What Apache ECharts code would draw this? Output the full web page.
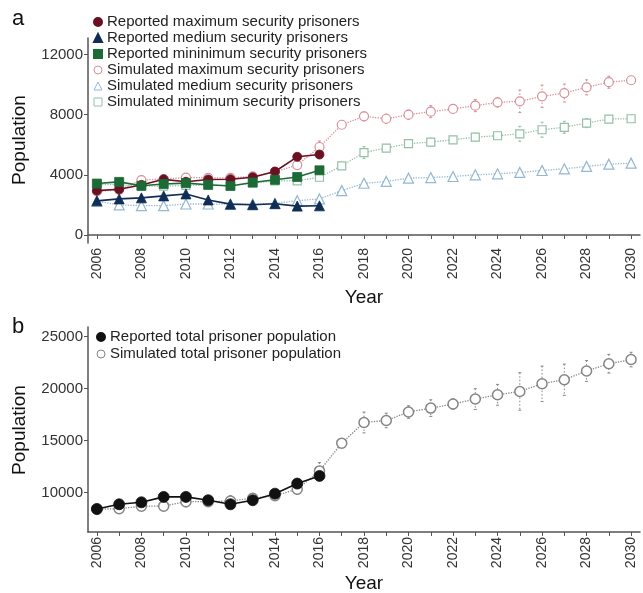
<!DOCTYPE html>
<html>
<head>
<meta charset="utf-8">
<script src="https://cdn.jsdelivr.net/npm/echarts@6/dist/echarts.min.js"></script>
<style>
  html, body { margin: 0; padding: 0; background: #fff; }
  #chart { width: 643px; height: 593px; }
</style>
</head>
<body>
<div id="chart"></div>
<script>
// Years covered by the projection (reported data stops at 2016)
const years = [2006, 2007, 2008, 2009, 2010, 2011, 2012, 2013, 2014, 2015, 2016, 2017, 2018,
               2019, 2020, 2021, 2022, 2023, 2024, 2025, 2026, 2027, 2028, 2029, 2030];
const reportedYears = years.slice(0, 11);
const yearLabels = [2006, 2008, 2010, 2012, 2014, 2016, 2018, 2020, 2022, 2024, 2026, 2028, 2030];
const ticksA = [0, 4000, 8000, 12000];
const ticksB = [10000, 15000, 20000, 25000];

// Panel a: prisoners by security level
const reportedMax = [2950, 3040, 3330, 3700, 3540, 3690, 3710, 3840, 4220, 5200, 5350];
const reportedMed = [2270, 2400, 2470, 2600, 2730, 2330, 2050, 2010, 2080, 1920, 1940];
const reportedMin = [3420, 3530, 3270, 3390, 3450, 3340, 3260, 3490, 3670, 3860, 4300];

const simulatedMax = [2900, 3000, 3650, 3720, 3820, 3800, 3800, 3900, 4200, 4650, 5850, 7330, 7890,
                      7730, 8000, 8200, 8380, 8600, 8820, 8890, 9220, 9440, 9820, 10160, 10290];
const simulatedMed = [2250, 2000, 1950, 1950, 2060, 2060, 2050, 2050, 2100, 2280, 2400, 2950, 3440,
                      3560, 3780, 3820, 3890, 4000, 4070, 4160, 4290, 4400, 4560, 4710, 4780];
const simulatedMin = [3350, 3350, 3250, 3250, 3300, 3300, 3300, 3450, 3600, 3600, 3840, 4600, 5480,
                      5780, 6070, 6180, 6330, 6510, 6600, 6730, 7000, 7160, 7440, 7710, 7730];

// Half-widths of the simulation spread
const simulatedMaxErr = [150, 150, 150, 150, 200, 150, 150, 200, 200, 300, 400, 200, 300,
                         300, 300, 400, 200, 400, 300, 750, 750, 600, 500, 400, 200];
const simulatedMedErr = [100, 100, 100, 100, 100, 100, 100, 100, 100, 150, 150, 150, 200,
                         150, 150, 150, 150, 150, 150, 200, 200, 200, 200, 150, 150];
const simulatedMinErr = [150, 150, 150, 150, 150, 150, 150, 150, 150, 200, 200, 200, 400,
                         200, 200, 250, 200, 250, 200, 500, 500, 400, 300, 200, 150];

// Panel b: total prisoner population
const reportedTotal = [8430, 8880, 9070, 9590, 9590, 9270, 8880, 9270, 9900, 10870, 11610];
const simulatedTotal = [8400, 8460, 8690, 8700, 9130, 9130, 9200, 9460, 9710, 10330, 12090, 14760, 16750,
                        16940, 17750, 18130, 18520, 19000, 19410, 19730, 20470, 20860, 21700, 22400, 22800];
const simulatedTotalErr = [300, 300, 400, 400, 500, 300, 500, 400, 400, 500, 800, 300, 1000,
                           700, 600, 800, 500, 1000, 1000, 1800, 1700, 1500, 1000, 900, 700];

const FONT = 'Liberation Sans, Arial, sans-serif';
const AXIS = '#555';

const pair = (xs, ys) => ys.map((v, i) => [xs[i], v]);
const triple = (xs, ys, es) => ys.map((v, i) => [xs[i], v, es[i]]);

function errorBars(name, idx, data, color) {
  return {
    type: 'custom', name: name, xAxisIndex: idx, yAxisIndex: idx, z: 1,
    data: data, silent: true,
    renderItem: function (params, api) {
      const x = api.value(0), y = api.value(1), e = api.value(2);
      const top = api.coord([x, y + e]);
      const bot = api.coord([x, y - e]);
      const st = { stroke: color, lineWidth: 1, lineDash: [1.5, 2] };
      const cap = { stroke: color, lineWidth: 1 };
      return {
        type: 'group',
        children: [
          { type: 'line', shape: { x1: top[0], y1: top[1], x2: bot[0], y2: bot[1] }, style: st },
          { type: 'line', shape: { x1: top[0] - 1.5, y1: top[1], x2: top[0] + 1.5, y2: top[1] }, style: cap },
          { type: 'line', shape: { x1: bot[0] - 1.5, y1: bot[1], x2: bot[0] + 1.5, y2: bot[1] }, style: cap }
        ]
      };
    }
  };
}

function simSeries(name, idx, data, color, symbol, size, bw) {
  return {
    type: 'line', name: name, xAxisIndex: idx, yAxisIndex: idx, z: 2,
    data: data, symbol: symbol, symbolSize: size,
    itemStyle: { color: '#fff', borderColor: color, borderWidth: bw || 1.2 },
    lineStyle: { color: color, width: 1.3, type: 'dotted' },
    emphasis: { disabled: true }
  };
}

function repSeries(name, idx, data, color, symbol, size) {
  return {
    type: 'line', name: name, xAxisIndex: idx, yAxisIndex: idx, z: 3,
    data: data, symbol: symbol, symbolSize: size,
    itemStyle: { color: color, borderColor: color, borderWidth: 0.8 },
    lineStyle: { color: color, width: 1.6 },
    emphasis: { disabled: true }
  };
}

function xAxis(idx) {
  return {
    type: 'value', gridIndex: idx, min: 2005.6, max: 2030.4,
    axisLine: { show: true, lineStyle: { color: AXIS, width: 1.5 } },
    axisTick: { show: true, length: 4, customValues: years, lineStyle: { color: AXIS, width: 1 } },
    axisLabel: { customValues: yearLabels, rotate: 90, margin: 5, color: '#333',
                 fontFamily: FONT, fontSize: 14, formatter: v => String(v) },
    splitLine: { show: false }
  };
}

function yAxis(idx, min, max, ticks) {
  return {
    type: 'value', gridIndex: idx, min: min, max: max,
    axisLine: { show: true, lineStyle: { color: AXIS, width: 1.5 } },
    axisTick: { show: true, length: 4, customValues: ticks, lineStyle: { color: AXIS, width: 1 } },
    axisLabel: { customValues: ticks, margin: 5, color: '#333', fontFamily: FONT, fontSize: 15,
                 formatter: v => String(v) },
    splitLine: { show: false }
  };
}

const C = {
  repMax: '#6b1020', repMed: '#0f2d55', repMin: '#1c6a36',
  simMax: '#d88f9a', simMed: '#94b8d2', simMin: '#94c0a8',
  repTot: '#111111', simTot: '#858585'
};

const names = {
  repMax: 'Reported maximum security prisoners',
  repMed: 'Reported medium security prisoners',
  repMin: 'Reported mininimum security prisoners',
  simMax: 'Simulated maximum security prisoners',
  simMed: 'Simulated medium security prisoners',
  simMin: 'Simulated minimum security prisoners',
  repTot: 'Reported total prisoner population',
  simTot: 'Simulated total prisoner population'
};

const legendText = { fontFamily: FONT, fontSize: 15, color: '#222', lineHeight: 16 };
const hollow = c => ({ color: '#fff', borderColor: c, borderWidth: 1 });

const option = {
  animation: false,
  backgroundColor: '#fff',
  grid: [
    { left: 88, top: 38, width: 552, height: 205 },
    { left: 88, top: 327, width: 552, height: 205 }
  ],
  xAxis: [xAxis(0), xAxis(1)],
  yAxis: [yAxis(0, -533, 13100, ticksA), yAxis(1, 6214, 25930, ticksB)],
  legend: [
    {
      orient: 'vertical', left: 88, top: 9, itemGap: 0, itemWidth: 8, itemHeight: 8,
      textStyle: legendText, selectedMode: false,
      data: [
        { name: names.repMax, icon: 'circle', itemStyle: { color: C.repMax } },
        { name: names.repMed, icon: 'triangle', itemStyle: { color: C.repMed } },
        { name: names.repMin, icon: 'rect', itemStyle: { color: C.repMin } },
        { name: names.simMax, icon: 'circle', itemStyle: hollow(C.simMax) },
        { name: names.simMed, icon: 'triangle', itemStyle: hollow(C.simMed) },
        { name: names.simMin, icon: 'rect', itemStyle: hollow(C.simMin) }
      ]
    },
    {
      orient: 'vertical', left: 91, top: 324, itemGap: 1, itemWidth: 8, itemHeight: 8,
      textStyle: legendText, selectedMode: false,
      data: [
        { name: names.repTot, icon: 'circle', itemStyle: { color: C.repTot } },
        { name: names.simTot, icon: 'circle', itemStyle: hollow(C.simTot) }
      ]
    }
  ],
  graphic: [
    { type: 'text', left: 12, top: 8, style: { text: 'a', font: '22px ' + FONT, fill: '#111' } },
    { type: 'text', left: 12, top: 316, style: { text: 'b', font: '22px ' + FONT, fill: '#111' } },
    { type: 'text', x: 364, y: 298, style: { text: 'Year', font: '19px ' + FONT, fill: '#111',
      align: 'center', verticalAlign: 'middle' } },
    { type: 'text', x: 364, y: 584, style: { text: 'Year', font: '19px ' + FONT, fill: '#111',
      align: 'center', verticalAlign: 'middle' } },
    { type: 'text', x: 20, y: 140, rotation: Math.PI / 2, style: { text: 'Population', font: '19px ' + FONT,
      fill: '#111', align: 'center', verticalAlign: 'middle' } },
    { type: 'text', x: 20, y: 430, rotation: Math.PI / 2, style: { text: 'Population', font: '19px ' + FONT,
      fill: '#111', align: 'center', verticalAlign: 'middle' } }
  ],
  series: [
    errorBars('errMax', 0, triple(years, simulatedMax, simulatedMaxErr), C.simMax),
    errorBars('errMed', 0, triple(years, simulatedMed, simulatedMedErr), C.simMed),
    errorBars('errMin', 0, triple(years, simulatedMin, simulatedMinErr), C.simMin),
    simSeries(names.simMax, 0, pair(years, simulatedMax), C.simMax, 'circle', 9),
    simSeries(names.simMed, 0, pair(years, simulatedMed), C.simMed, 'triangle', 10),
    simSeries(names.simMin, 0, pair(years, simulatedMin), C.simMin, 'rect', 8),
    repSeries(names.repMax, 0, pair(reportedYears, reportedMax), C.repMax, 'circle', 9),
    repSeries(names.repMed, 0, pair(reportedYears, reportedMed), C.repMed, 'triangle', 10),
    repSeries(names.repMin, 0, pair(reportedYears, reportedMin), C.repMin, 'rect', 9),

    errorBars('errTot', 1, triple(years, simulatedTotal, simulatedTotalErr), C.simTot),
    simSeries(names.simTot, 1, pair(years, simulatedTotal), C.simTot, 'circle', 10, 1.5),
    repSeries(names.repTot, 1, pair(reportedYears, reportedTotal), C.repTot, 'circle', 11)
  ]
};

const chart = echarts.init(document.getElementById('chart'), null, { renderer: 'canvas' });
chart.setOption(option);
</script>
</body>
</html>
